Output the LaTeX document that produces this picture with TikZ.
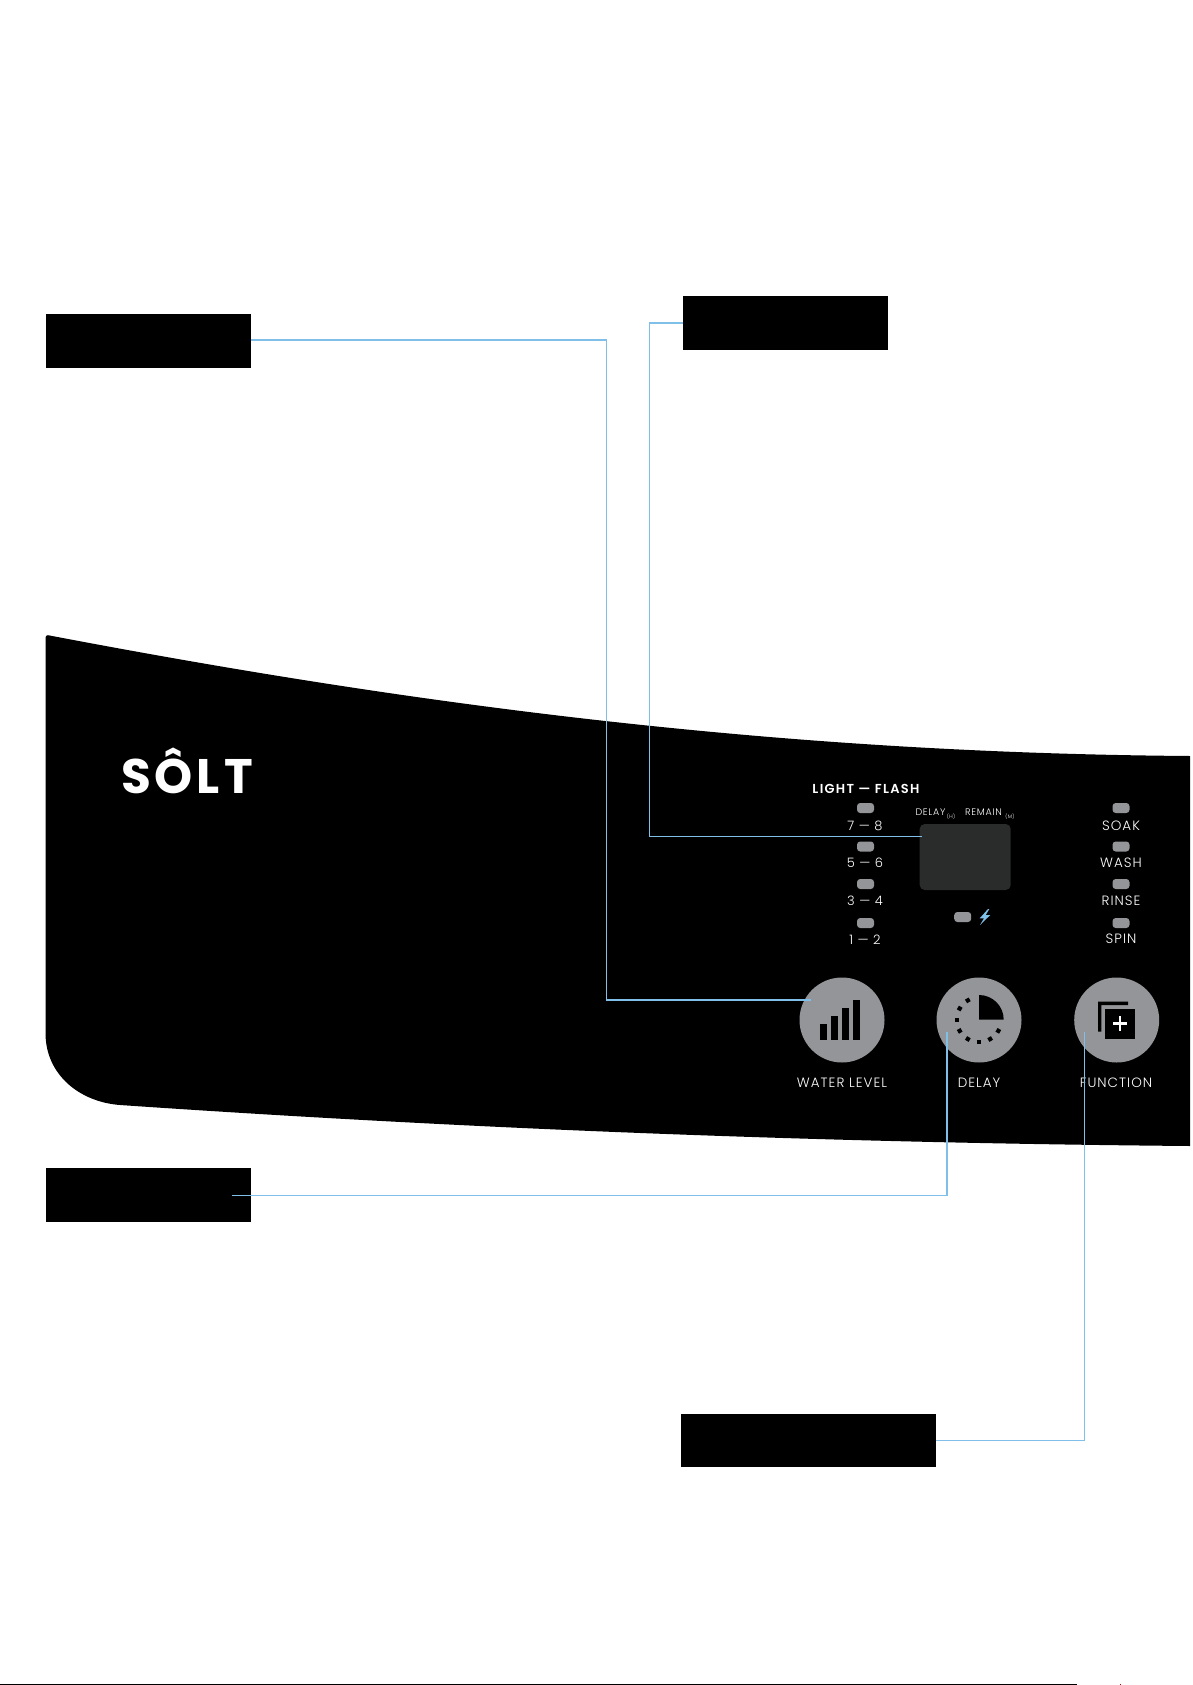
\documentclass[tikz,border=0pt]{standalone}
\usepackage{fontspec}
\setmainfont{Poppins}
\newfontfamily\lbl[UprightFont=* Light,LetterSpace=7.5]{Poppins}
\newfontfamily\lblhead[UprightFont=* SemiBold,LetterSpace=10]{Poppins}
\newfontfamily\lbllogo[UprightFont=* Bold,LetterSpace=8]{Poppins}
\definecolor{callout}{HTML}{7FBFE8}
\definecolor{btn}{HTML}{939598}
\definecolor{screen}{HTML}{2A2B2B}
\tikzset{
  blackbox/.style={fill=black,draw=none,inner sep=0,outer sep=0,minimum width=205pt,minimum height=54pt},
  leader/.style={draw=callout,line width=1.3pt},
  led/.style={fill=btn,draw=none,rounded corners=3.2pt,minimum width=17pt,minimum height=10pt,inner sep=0,outer sep=0},
  roundbtn/.style={circle,fill=btn,draw=none,minimum size=85pt,inner sep=0,outer sep=0},
  paneltxt/.style={text=white,inner sep=0,outer sep=0,anchor=base},
  btnlabel/.style={paneltxt,font=\lbl\fontsize{13.5}{14}\selectfont},
  numlabel/.style={paneltxt,font=\lbl\fontsize{13}{14}\selectfont},
  tinylabel/.style={paneltxt,font=\lbl\fontsize{9.5}{10}\selectfont},
  sublabel/.style={paneltxt,font=\lbl\fontsize{5}{6}\selectfont},
}
\begin{document}
\begin{tikzpicture}[x=1pt,y=-1pt]
\useasboundingbox (0,0) rectangle (1192,1685);
\fill[white] (0,0) rectangle (1192,1685);

% panel
\fill[black] (48,635.2) .. controls (430,708) and (790,753) .. (1190,756)
  -- (1190,1146) .. controls (850,1143) and (500,1131) .. (120,1105)
  .. controls (80,1102) and (45.5,1075) .. (45.5,1033)
  -- (45.5,638) .. controls (45.5,636) and (46.5,635) .. (48,635.2) -- cycle;

% logo
\node[paneltxt,font=\lbllogo\fontsize{48.5}{50}\selectfont] (logo) at (187,793.5) {SÔLT};

% display and LEDs
\node[fill=screen,draw=none,rounded corners=5pt,minimum width=91pt,minimum height=66pt,inner sep=0,outer sep=0] (display) at (965.2,857) {};
\node[led] (l78) at (865.5,808) {};
\node[led] (l56) at (865.5,846.5) {};
\node[led] (l34) at (865.5,884) {};
\node[led] (l12) at (865.5,923) {};
\node[led] (lsoak) at (1121,808) {};
\node[led] (lwash) at (1121,846.5) {};
\node[led] (lrinse) at (1121,884) {};
\node[led] (lspin) at (1121,923) {};
\node[led] (lpower) at (962.7,917) {};
\fill[callout] (988,909) -- (979.7,918.3) -- (984,918.3) -- (980,925) -- (990.3,915) -- (985.7,915) -- (989.3,909) -- cycle;

% panel labels
\node[paneltxt,font=\lblhead\fontsize{13}{14}\selectfont] (lighthead) at (866,793.5) {LIGHT — FLASH};
\node[numlabel] (t78) at (865,830) {7 — 8};
\node[numlabel] (t56) at (865,867.5) {5 — 6};
\node[numlabel] (t34) at (865,905.5) {3 — 4};
\node[numlabel] (t12) at (865,944) {1 — 2};
\node[btnlabel] (tsoak) at (1121,830) {SOAK};
\node[btnlabel] (twash) at (1121,867.5) {WASH};
\node[btnlabel] (trinse) at (1121,905.5) {RINSE};
\node[btnlabel] (tspin) at (1121,943) {SPIN};
\node[tinylabel] (tdelay) at (930.5,815.5) {DELAY};
\node[sublabel] (tdelayh) at (951,818) {(H)};
\node[tinylabel] (tremain) at (983.5,815.5) {REMAIN};
\node[sublabel] (tremainm) at (1010,818) {(M)};

% buttons
\node[roundbtn] (bwater) at (842,1020) {};
\node[roundbtn] (bdelay) at (979,1020) {};
\node[roundbtn] (bfunction) at (1116.7,1020) {};
\node[btnlabel] (twater) at (842,1087) {WATER LEVEL};
\node[btnlabel] (tdelaybtn) at (979,1087) {DELAY};
\node[btnlabel] (tfunction) at (1116,1087) {FUNCTION};

% water icon
\fill[black] (820,1024) rectangle (827,1040);
\fill[black] (831,1016) rectangle (838,1040);
\fill[black] (842,1008) rectangle (849,1040);
\fill[black] (853,1000) rectangle (860,1040);

% delay icon
\fill[black] (979,1019.7) -- (979,995) arc[start angle=90,end angle=0,radius=24.7pt] -- cycle;
\foreach \a in {120,150,180,210,240,270,300,330}
  \fill[black,shift={(979,1019.7)},rotate=\a] (20.2,-2.1) rectangle (24.4,2.1);

% function icon
\fill[black] (1098,1001.7) -- (1128,1001.7) -- (1128,1005) -- (1101.3,1005) -- (1101.3,1031.7) -- (1098,1031.7) -- cycle;
\fill[black] (1105,1009) rectangle (1135,1039);
\fill[white] (1112.7,1022.4) rectangle (1127.3,1025.1);
\fill[white] (1118.65,1016.4) rectangle (1121.35,1031.1);

% callout boxes
\node[blackbox] (box1) at (148.5,341) {};
\node[blackbox] (box2) at (785.5,323) {};
\node[blackbox] (box3) at (148.5,1195) {};
\node[blackbox,minimum width=255pt,minimum height=53pt] (box4) at (808.5,1440.5) {};

% leader lines
\coordinate (w1) at (606.5,340);
\coordinate (w2) at (606.5,1000);
\coordinate (wend) at (811,1000);
\draw[leader] ([yshift=1pt]box1.east) -- (w1) -- (w2) -- (wend);
\coordinate (d1) at (649.5,323);
\coordinate (d2) at (649.5,836.5);
\coordinate (dend) at (922,836.5);
\draw[leader] (box2.west) -- (d1) -- (d2) -- (dend);
\coordinate (e0) at (232,1195.5);
\coordinate (e1) at (947,1195.5);
\coordinate (eend) at (947,1032);
\draw[leader] (e0) -- (e1) -- (eend);
\coordinate (f1) at (1084.5,1440.5);
\coordinate (fend) at (1084.5,1032);
\draw[leader] (box4.east) -- (f1) -- (fend);

% bottom rule
\fill[black] (0,1684) rectangle (1077,1685);
\fill[red!70!black] (1120,1684) rectangle (1121,1685);
\end{tikzpicture}
\end{document}
